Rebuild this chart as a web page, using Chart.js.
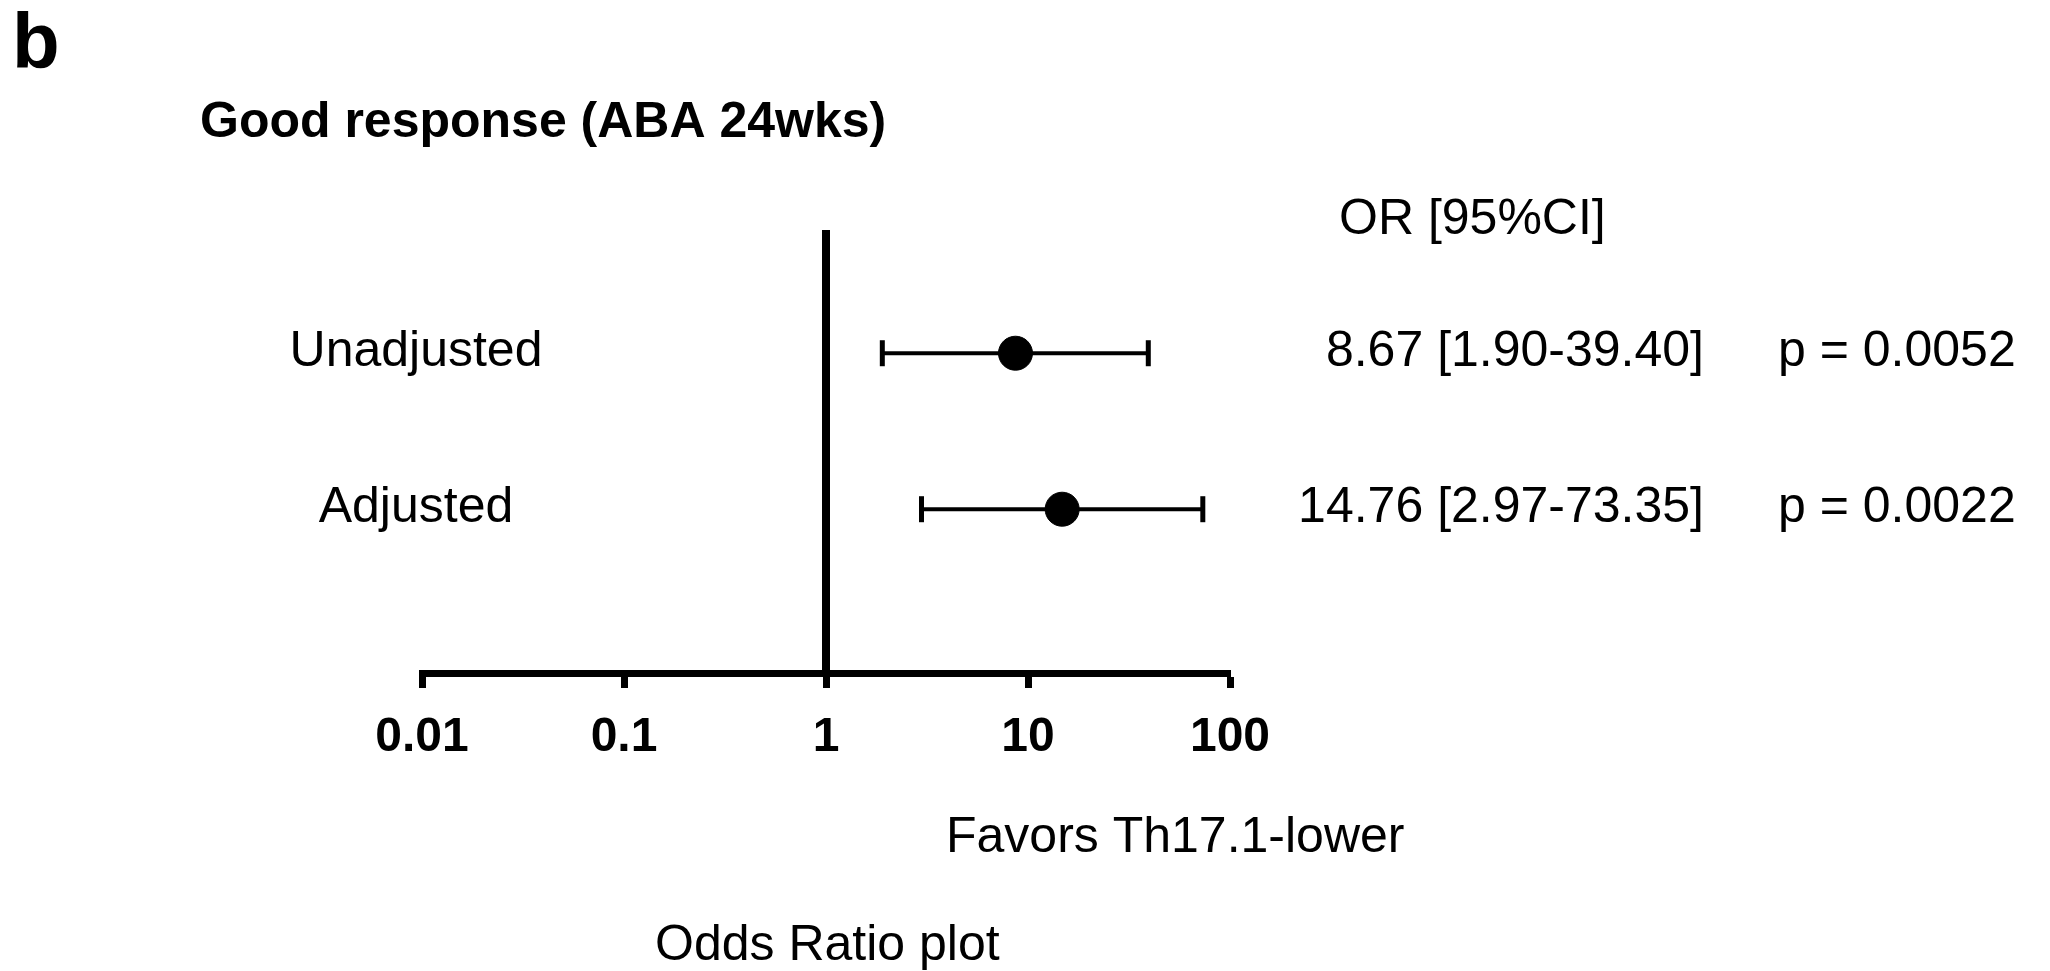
<!DOCTYPE html>
<html>
<head>
<meta charset="utf-8">
<script src="https://cdn.jsdelivr.net/npm/chart.js@4.4.1/dist/chart.umd.min.js"></script>
<style>
    html, body { margin: 0; padding: 0; background: #fff; }
    #wrap { width: 2050px; height: 971px; position: relative; }
</style>
</head>
<body>
<div id="wrap"><canvas id="orPlot"></canvas></div>
<script>
/* ── Odds ratio forest plot ── */

const rowLabels  = ['Unadjusted', 'Adjusted'];
const oddsRatios = [8.67, 14.76];
const ciLower    = [1.90, 2.97];
const ciUpper    = [39.40, 73.35];
const pValues    = ['0.0052', '0.0022'];
const tickValues = [0.01, 0.1, 1, 10, 100];
const nullValue  = 1;

const FONT = `'Liberation Sans', Arial, Helvetica, sans-serif`;

const rowY = i => i + 1;

// reference line at OR = 1, spanning the whole y range
const Y_MIN = 0.21, Y_MAX = 3.05;

const datasets = [];

datasets.push({
    type:        'line',
    data:        [{ x: nullValue, y: Y_MIN }, { x: nullValue, y: Y_MAX }],
    borderColor: '#000',
    borderWidth: 8,
    pointRadius: 0,
    order:       3,
});

// CI whiskers with vertical caps
rowLabels.forEach((_, i) => {
    datasets.push({
        type:             'line',
        data:             [{ x: ciLower[i], y: rowY(i) }, { x: ciUpper[i], y: rowY(i) }],
        borderColor:      '#000',
        borderWidth:      4,
        pointStyle:       'line',
        rotation:         90,
        pointRadius:      13,
        pointBorderWidth: 5,
        pointBorderColor: '#000',
        order:            2,
    });
});

// point estimates
datasets.push({
    type:            'scatter',
    data:            oddsRatios.map((v, i) => ({ x: v, y: rowY(i) })),
    backgroundColor: '#000',
    borderColor:     '#000',
    pointRadius:     17,
    order:           1,
});

const textPlugin = {
    id: 'forestText',
    afterDraw(chart) {
        const { ctx, scales: { y } } = chart;
        ctx.save();
        ctx.fillStyle    = '#000';
        ctx.textBaseline = 'alphabetic';

        ctx.textAlign = 'left';
        ctx.font = `bold 78px ${FONT}`;
        ctx.fillText('b', 12, 68);

        ctx.font = `bold 50px ${FONT}`;
        ctx.fillText('Good response (ABA 24wks)', 200, 137);

        ctx.font = `50px ${FONT}`;
        ctx.fillText('OR [95%CI]', 1339, 234);

        rowLabels.forEach((label, i) => {
            const py = y.getPixelForValue(rowY(i)) + 13;
            ctx.textAlign = 'center';
            ctx.fillText(label, 416, py);
            ctx.textAlign = 'right';
            const txt = `${oddsRatios[i].toFixed(2)} [${ciLower[i].toFixed(2)}-${ciUpper[i].toFixed(2)}]`;
            ctx.fillText(txt, 1704, py);
            ctx.textAlign = 'left';
            ctx.fillText(`p = ${pValues[i]}`, 1778, py);
        });

        ctx.textAlign = 'left';
        ctx.fillText('Favors Th17.1-lower', 946, 852);
        ctx.fillText('Odds Ratio plot', 655, 960);
        ctx.restore();
    }
};

new Chart(document.getElementById('orPlot').getContext('2d'), {
    data:    { datasets },
    plugins: [textPlugin],
    options: {
        responsive:          true,
        maintainAspectRatio: false,
        animation:           false,
        events:              [],
        layout: { padding: { left: 422, right: 820, top: 230, bottom: 188 } },
        plugins: {
            legend:  { display: false },
            tooltip: { enabled: false },
        },
        scales: {
            x: {
                type:     'logarithmic',
                position: 'bottom',
                min:      tickValues[0],
                max:      tickValues[tickValues.length - 1],
                afterBuildTicks(scale) {
                    scale.ticks = tickValues.map(v => ({ value: v }));
                },
                afterFit(scale) { scale.height = 110; },
                grid: {
                    display:         true,
                    drawOnChartArea: false,
                    drawTicks:       true,
                    tickLength:      15,
                    tickWidth:       7,
                    tickColor:       '#000',
                },
                border: { display: true, color: '#000', width: 7 },
                ticks: {
                    color:       '#000',
                    padding:     21,
                    maxRotation: 0,
                    autoSkip:    false,
                    font:        { family: FONT, size: 48, weight: 'bold' },
                    callback:    v => String(v),
                },
            },
            y: {
                type:    'linear',
                display: false,
                reverse: true,
                min:     Y_MIN,
                max:     Y_MAX,
            },
        },
    }
});
</script>
</body>
</html>
